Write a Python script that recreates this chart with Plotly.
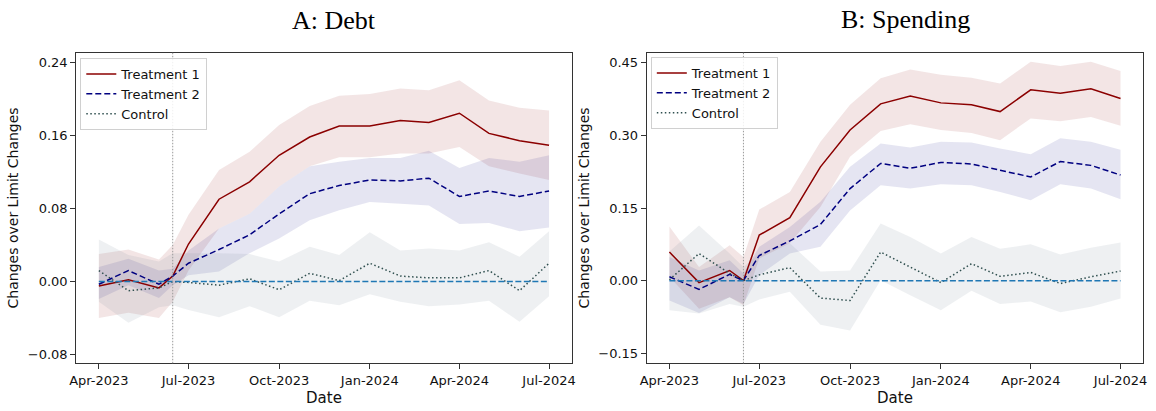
import plotly.graph_objects as go

# Monthly observation dates, plus the mid-June policy date
DATES = [
    "2023-04-01", "2023-05-01", "2023-06-01", "2023-06-15", "2023-07-01",
    "2023-08-01", "2023-09-01", "2023-10-01", "2023-11-01", "2023-12-01",
    "2024-01-01", "2024-02-01", "2024-03-01", "2024-04-01", "2024-05-01",
    "2024-06-01", "2024-07-01",
]
TREATMENT_DATE = "2023-06-15"

# Panel A: Debt
DEBT_T1 = [-0.005, 0.002, -0.007, 0.006, 0.041, 0.090, 0.109, 0.138, 0.158, 0.170,
           0.170, 0.176, 0.174, 0.184, 0.162, 0.154, 0.149]
DEBT_T1_HI = [0.030, 0.035, 0.024, 0.040, 0.073, 0.122, 0.142, 0.171, 0.192, 0.203,
              0.205, 0.211, 0.209, 0.220, 0.198, 0.190, 0.187]
DEBT_T1_LO = [-0.040, -0.034, -0.040, -0.022, 0.012, 0.058, 0.074, 0.104, 0.126, 0.136,
              0.136, 0.140, 0.140, 0.147, 0.126, 0.118, 0.111]
DEBT_T2 = [-0.003, 0.012, -0.003, 0.006, 0.020, 0.035, 0.051, 0.074, 0.096, 0.105,
           0.111, 0.110, 0.113, 0.093, 0.099, 0.093, 0.099]
DEBT_T2_HI = [0.016, 0.025, 0.012, 0.014, 0.034, 0.058, 0.074, 0.104, 0.126, 0.131,
              0.135, 0.135, 0.143, 0.124, 0.135, 0.131, 0.138]
DEBT_T2_LO = [-0.019, -0.004, -0.018, -0.004, 0.007, 0.011, 0.031, 0.047, 0.067, 0.078,
              0.087, 0.085, 0.083, 0.063, 0.064, 0.055, 0.059]
DEBT_CTRL = [0.012, -0.010, -0.007, 0.000, -0.001, -0.004, 0.003, -0.009, 0.009, 0.001,
             0.020, 0.006, 0.004, 0.004, 0.012, -0.010, 0.020]
DEBT_CTRL_HI = [0.046, 0.029, 0.022, 0.031, 0.031, 0.031, 0.030, 0.022, 0.038, 0.029,
                0.054, 0.034, 0.036, 0.034, 0.043, 0.027, 0.055]
DEBT_CTRL_LO = [-0.022, -0.045, -0.028, -0.026, -0.031, -0.039, -0.027, -0.039, -0.021, -0.026,
                -0.014, -0.022, -0.027, -0.025, -0.021, -0.044, -0.016]

# Panel B: Spending
SPEND_T1 = [0.059, -0.004, 0.021, 0.000, 0.094, 0.130, 0.235, 0.311, 0.365, 0.381,
            0.367, 0.363, 0.349, 0.394, 0.387, 0.396, 0.376]
SPEND_T1_HI = [0.112, 0.028, 0.073, 0.049, 0.147, 0.183, 0.287, 0.363, 0.418, 0.436,
               0.425, 0.419, 0.407, 0.452, 0.443, 0.452, 0.433]
SPEND_T1_LO = [0.008, -0.058, -0.034, -0.051, 0.046, 0.077, 0.152, 0.256, 0.309, 0.323,
               0.311, 0.305, 0.290, 0.335, 0.329, 0.338, 0.320]
SPEND_T2 = [0.008, -0.018, 0.013, 0.000, 0.052, 0.082, 0.116, 0.190, 0.242, 0.232,
            0.244, 0.241, 0.228, 0.214, 0.246, 0.238, 0.218]
SPEND_T2_HI = [0.049, 0.021, 0.042, 0.015, 0.070, 0.111, 0.163, 0.235, 0.283, 0.275,
               0.287, 0.285, 0.273, 0.261, 0.294, 0.287, 0.270]
SPEND_T2_LO = [-0.041, -0.067, -0.034, -0.048, 0.011, 0.056, 0.070, 0.145, 0.197, 0.190,
               0.199, 0.197, 0.183, 0.166, 0.199, 0.190, 0.168]
SPEND_CTRL = [0.002, 0.056, 0.015, 0.000, 0.012, 0.027, -0.036, -0.041, 0.059, 0.028,
              -0.004, 0.035, 0.009, 0.017, -0.006, 0.008, 0.020]
SPEND_CTRL_HI = [0.060, 0.114, 0.056, 0.028, 0.056, 0.077, 0.019, 0.021, 0.118, 0.090,
                 0.056, 0.090, 0.066, 0.075, 0.054, 0.068, 0.079]
SPEND_CTRL_LO = [-0.061, -0.068, -0.048, -0.054, -0.039, -0.023, -0.091, -0.103, 0.001, -0.030,
                 -0.061, -0.021, -0.048, -0.043, -0.065, -0.054, -0.037]

X_TICKS = ["2023-04-01", "2023-07-01", "2023-10-01", "2024-01-01", "2024-04-01", "2024-07-01"]
X_TICK_TEXT = ["Apr-2023", "Jul-2023", "Oct-2023", "Jan-2024", "Apr-2024", "Jul-2024"]
DEBT_Y_TICKS = [-0.08, 0.0, 0.08, 0.16, 0.24]
SPEND_Y_TICKS = [-0.15, 0.0, 0.15, 0.30, 0.45]

LABELS = ["Treatment 1", "Treatment 2", "Control"]
LINE_COLORS = ["#8b0000", "#000080", "#2f4f4f"]
BAND_COLORS = ["rgba(139,0,0,0.10)", "rgba(0,0,128,0.10)", "rgba(112,128,144,0.12)"]
DASHES = ["solid", "6px,3px", "1.5px,2.5px"]

SANS = "DejaVu Sans"
SERIF = "Liberation Serif"
TEXT = "#111111"

fig = go.Figure()


def fmt(v, decimals):
    s = f"{v:.{decimals}f}"
    return s.replace("-", "\u2212")


def add_panel(xa, ya, legend_name, series):
    for (mid, hi, lo), bc in zip(series, BAND_COLORS):
        fig.add_trace(go.Scatter(
            x=DATES + DATES[::-1], y=hi + lo[::-1], fill="toself", fillcolor=bc,
            line=dict(width=0), mode="lines", hoverinfo="skip", showlegend=False,
            xaxis=xa, yaxis=ya,
        ))
    for (mid, hi, lo), label, lc, dash in zip(series, LABELS, LINE_COLORS, DASHES):
        fig.add_trace(go.Scatter(
            x=DATES, y=mid, mode="lines", name=label,
            line=dict(color=lc, width=1.5, dash=dash),
            xaxis=xa, yaxis=ya, legend=legend_name,
        ))
    # zero reference line
    fig.add_trace(go.Scatter(
        x=[DATES[0], DATES[-1]], y=[0, 0], mode="lines", showlegend=False,
        line=dict(color="#1f77b4", width=1.5, dash="6px,2.5px"),
        xaxis=xa, yaxis=ya, hoverinfo="skip",
    ))


add_panel("x", "y", "legend",
          [(DEBT_T1, DEBT_T1_HI, DEBT_T1_LO), (DEBT_T2, DEBT_T2_HI, DEBT_T2_LO),
           (DEBT_CTRL, DEBT_CTRL_HI, DEBT_CTRL_LO)])
add_panel("x2", "y2", "legend2",
          [(SPEND_T1, SPEND_T1_HI, SPEND_T1_LO), (SPEND_T2, SPEND_T2_HI, SPEND_T2_LO),
           (SPEND_CTRL, SPEND_CTRL_HI, SPEND_CTRL_LO)])

# policy date marker in each panel
for xr, yr in [("x", "y domain"), ("x2", "y2 domain")]:
    fig.add_shape(type="line", xref=xr, yref=yr, x0=TREATMENT_DATE, x1=TREATMENT_DATE,
                  y0=0, y1=1, line=dict(color="#999999", width=1, dash="1.5px,1.5px"),
                  layer="above")

W, H = 1156, 411
X_RANGE = ["2023-03-09 03:36", "2024-07-23 20:24"]
Y_DOM = [1 - 363.3 / H, 1 - 52.5 / H]

axis_common = dict(
    showline=True, linecolor="#333333", linewidth=1.2, mirror=True,
    ticks="outside", ticklen=5, tickwidth=1, tickcolor="#333333",
    showgrid=False, zeroline=False,
    tickfont=dict(family=SANS, size=13, color=TEXT),
)
x_title = dict(text="Date", font=dict(family=SANS, size=15, color=TEXT), standoff=5)
y_title = dict(text="Changes over Limit Changes", font=dict(family=SANS, size=14, color=TEXT), standoff=5)
legend_common = dict(xanchor="left", yanchor="top",
                     bgcolor="rgba(255,255,255,0.85)", bordercolor="#d0d0d0", borderwidth=1,
                     font=dict(family=SANS, size=13, color=TEXT), tracegroupgap=0)

fig.update_layout(
    width=W, height=H, margin=dict(l=0, r=0, t=0, b=0),
    paper_bgcolor="white", plot_bgcolor="white",
    xaxis=dict(domain=[70 / W, 570 / W], range=X_RANGE, type="date",
               tickvals=X_TICKS, ticktext=X_TICK_TEXT, anchor="y",
               title=x_title, **axis_common),
    yaxis=dict(domain=Y_DOM, range=[-0.0894, 0.2504], anchor="x",
               tickvals=DEBT_Y_TICKS, ticktext=[fmt(v, 2) for v in DEBT_Y_TICKS],
               title=y_title, **axis_common),
    xaxis2=dict(domain=[646 / W, 1147 / W], range=X_RANGE, type="date",
                tickvals=X_TICKS, ticktext=X_TICK_TEXT, anchor="y2",
                title=x_title, **axis_common),
    yaxis2=dict(domain=Y_DOM, range=[-0.1706, 0.471], anchor="x2",
                tickvals=SPEND_Y_TICKS, ticktext=[fmt(v, 2) for v in SPEND_Y_TICKS],
                title=y_title, **axis_common),
    legend=dict(x=74 / W, y=1 - 58 / H, **legend_common),
    legend2=dict(x=650 / W, y=1 - 57 / H, **legend_common),
    showlegend=True,
    annotations=[
        dict(text="A: Debt", x=330 / W, y=1 - 20 / H, xref="paper", yref="paper",
             xanchor="center", yanchor="middle", showarrow=False,
             font=dict(family=SERIF, size=26, color="#000000")),
        dict(text="B: Spending", x=907 / W, y=1 - 19 / H, xref="paper", yref="paper",
             xanchor="center", yanchor="middle", showarrow=False,
             font=dict(family=SERIF, size=26, color="#000000")),
    ],
)

fig.write_html("out.html")
